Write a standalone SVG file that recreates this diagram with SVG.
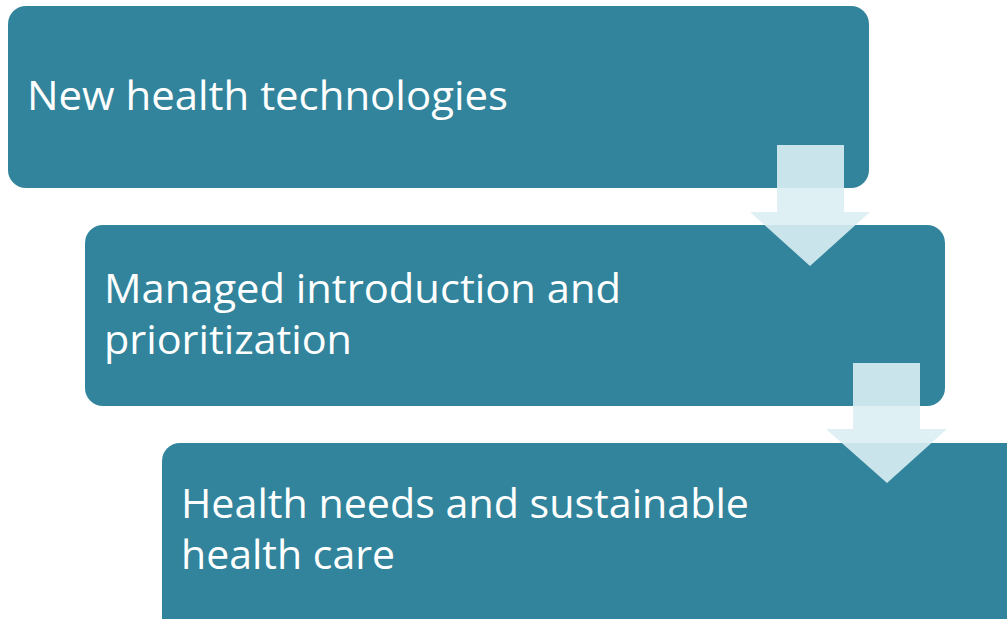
<svg xmlns="http://www.w3.org/2000/svg" width="1007" height="619" viewBox="0 0 1007 619">
<style>
.box{fill:#31849B;}
.lbl{fill:#FFFFFF;font-family:"Open Sans","Liberation Sans",sans-serif;font-size:41px;}
.arr{fill:#DAEEF3;fill-opacity:0.9;}
</style>
<rect width="1007" height="619" fill="#FFFFFF"/>
<g id="node1">
<rect class="box" x="8" y="6" width="861" height="182" rx="18"/>
<text class="lbl" x="27" y="110" textLength="481" lengthAdjust="spacingAndGlyphs">New health technologies</text>
</g>
<g id="node2">
<rect class="box" x="85" y="225" width="860" height="181" rx="18"/>
<text class="lbl" x="104" y="303" textLength="517" lengthAdjust="spacingAndGlyphs">Managed introduction and</text>
<text class="lbl" x="104" y="354" textLength="248" lengthAdjust="spacingAndGlyphs">prioritization</text>
</g>
<g id="node3">
<rect class="box" x="162" y="443" width="865" height="200" rx="18"/>
<text class="lbl" x="181" y="518" textLength="568" lengthAdjust="spacingAndGlyphs">Health needs and sustainable</text>
<text class="lbl" x="181" y="569" textLength="214" lengthAdjust="spacingAndGlyphs">health care</text>
</g>
<g id="connectors">
<polygon class="arr" points="777,145 844,145 844,212 870,212 810,266 750,212 777,212"/>
<polygon class="arr" points="853,363 920,363 920,429 947,429 887,483 826,429 853,429"/>
</g>
</svg>
